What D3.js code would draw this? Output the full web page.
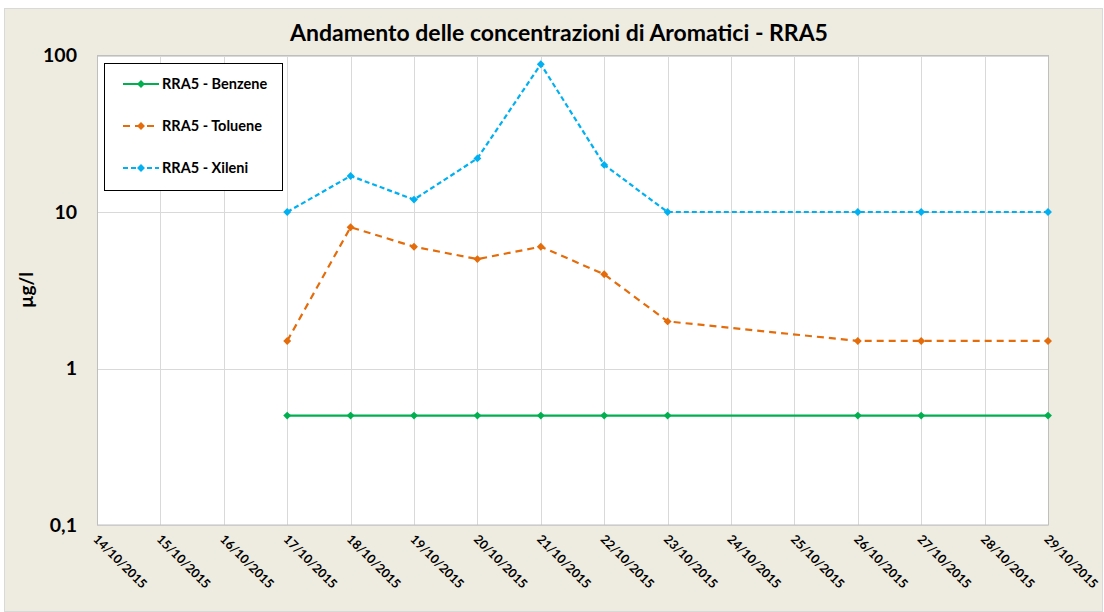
<!DOCTYPE html>
<html>
<head>
<meta charset="utf-8">
<script src="https://cdn.jsdelivr.net/npm/d3@7"></script>
<style>
  html, body { margin: 0; padding: 0; background: #ffffff; }
  svg { display: block; font-family: Lato, "Open Sans", sans-serif; }
</style>
</head>
<body>
<svg id="chart" width="1104" height="612"></svg>
<script>
// Sampling days (all in October 2015) and concentrations in µg/l
const axisDays = ["14/10/2015","15/10/2015","16/10/2015","17/10/2015","18/10/2015","19/10/2015","20/10/2015","21/10/2015","22/10/2015","23/10/2015","24/10/2015","25/10/2015","26/10/2015","27/10/2015","28/10/2015","29/10/2015"];
const sampleDays = ["17/10/2015","18/10/2015","19/10/2015","20/10/2015","21/10/2015","22/10/2015","23/10/2015","26/10/2015","27/10/2015","29/10/2015"];
const benzene = [0.5, 0.5, 0.5, 0.5, 0.5, 0.5, 0.5, 0.5, 0.5, 0.5];
const toluene = [1.5, 8, 6, 5, 6, 4, 2, 1.5, 1.5, 1.5];
const xileni  = [10, 17, 12, 22, 88, 20, 10, 10, 10, 10];
const yTicks = [0.1, 1, 10, 100];
const seriesNames = ["RRA5 - Benzene", "RRA5 - Toluene", "RRA5 - Xileni"];

const series = [
  { name: seriesNames[0], values: benzene, color: "#00B050", dash: null },
  { name: seriesNames[1], values: toluene, color: "#E46C0A", dash: "7,5" },
  { name: seriesNames[2], values: xileni,  color: "#00B0F0", dash: "5,3" }
];

const svg = d3.select("#chart");
const parse = d3.timeParse("%d/%m/%Y");

// chart frame
svg.append("rect")
  .attr("x", 4.5).attr("y", 8.5).attr("width", 1098).attr("height", 603)
  .attr("fill", "#EEEBE0").attr("stroke", "#D9D9D9");

const plot = { left: 97, right: 1048, top: 55.5, bottom: 525 };

const x = d3.scaleTime()
  .domain([parse(axisDays[0]), parse(axisDays[axisDays.length - 1])])
  .range([plot.left, plot.right]);
const y = d3.scaleLog().domain([0.1, 100]).range([plot.bottom, plot.top]);

// plot background
svg.append("rect")
  .attr("x", plot.left).attr("y", plot.top)
  .attr("width", plot.right - plot.left).attr("height", plot.bottom - plot.top)
  .attr("fill", "#ffffff");

// gridlines
const grid = svg.append("g").attr("stroke", "#D9D9D9").attr("stroke-width", 1);
axisDays.forEach(d => {
  const gx = Math.round(x(parse(d))) + 0.5;
  grid.append("line").attr("x1", gx).attr("x2", gx).attr("y1", plot.top).attr("y2", plot.bottom);
});
yTicks.forEach(t => {
  const gy = Math.round(y(t)) + 0.5;
  grid.append("line").attr("x1", plot.left).attr("x2", plot.right).attr("y1", gy).attr("y2", gy);
});

// plot border
svg.append("rect")
  .attr("x", plot.left + 0.5).attr("y", plot.top)
  .attr("width", plot.right - plot.left).attr("height", plot.bottom - plot.top)
  .attr("fill", "none").attr("stroke", "#BFBFBF");

// y axis labels
const yAxis = d3.axisLeft(y)
  .tickValues(yTicks)
  .tickSize(0)
  .tickPadding(20)
  .tickFormat(d => d3.format(".1~f")(d).replace(".", ","));
const yg = svg.append("g").attr("transform", `translate(${plot.left},0)`).call(yAxis);
yg.select(".domain").remove();
yg.selectAll("text")
  .attr("font-size", 19.5).attr("font-weight", "bold").attr("fill", "#000")
  .attr("font-family", "Lato, 'Open Sans', sans-serif");

// x axis labels, rotated
const xAxis = d3.axisBottom(x)
  .tickValues(axisDays.map(parse))
  .tickSize(0)
  .tickFormat(d3.timeFormat("%d/%m/%Y"));
const xg = svg.append("g").attr("transform", `translate(0,${plot.bottom})`).call(xAxis);
xg.select(".domain").remove();
xg.selectAll("text")
  .attr("font-size", 12.5).attr("font-weight", "bold").attr("fill", "#000")
  .attr("font-family", "Lato, 'Open Sans', sans-serif")
  .attr("text-anchor", "start")
  .attr("dy", null).attr("y", 0)
  .attr("transform", "translate(-5,15) rotate(45)");

// lines and markers
const line = d3.line()
  .x((v, i) => x(parse(sampleDays[i])))
  .y(v => y(v));
const diamond = d3.symbol().type(d3.symbolDiamond2).size(40);

series.forEach(s => {
  const g = svg.append("g");
  g.append("path")
    .attr("d", line(s.values))
    .attr("fill", "none")
    .attr("stroke", s.color)
    .attr("stroke-width", 2.2)
    .attr("stroke-dasharray", s.dash);
  g.selectAll("path.pt").data(s.values).join("path")
    .attr("class", "pt")
    .attr("d", diamond)
    .attr("transform", (v, i) => `translate(${x(parse(sampleDays[i]))},${y(v)})`)
    .attr("fill", s.color);
});

// title
svg.append("text")
  .attr("x", 559).attr("y", 41)
  .attr("text-anchor", "middle")
  .attr("font-size", 23).attr("font-weight", "bold").attr("fill", "#000")
  .text("Andamento delle concentrazioni di Aromatici - RRA5");

// y axis title
svg.append("text")
  .attr("transform", "translate(33,290) rotate(-90)")
  .attr("text-anchor", "middle")
  .attr("font-size", 19).attr("font-weight", "bold").attr("fill", "#000")
  .text("µg/l");

// legend
const lg = svg.append("g");
lg.append("rect")
  .attr("x", 104.5).attr("y", 63.5).attr("width", 178).attr("height", 127)
  .attr("fill", "#ffffff").attr("stroke", "#000").attr("stroke-width", 1);
series.forEach((s, i) => {
  const ly = 84 + i * 42;
  lg.append("line")
    .attr("x1", 123).attr("x2", 159).attr("y1", ly).attr("y2", ly)
    .attr("stroke", s.color).attr("stroke-width", 2.2)
    .attr("stroke-dasharray", s.dash);
  lg.append("path").attr("d", diamond)
    .attr("transform", `translate(141,${ly})`).attr("fill", s.color);
  lg.append("text")
    .attr("x", 162).attr("y", ly + 5)
    .attr("font-size", 14.5).attr("font-weight", "bold").attr("fill", "#000")
    .text(s.name);
});
</script>
</body>
</html>
